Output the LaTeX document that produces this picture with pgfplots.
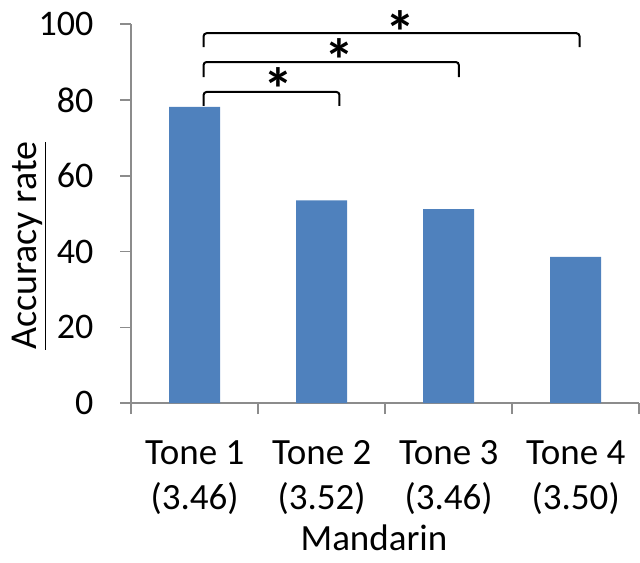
\documentclass[border=0pt]{standalone}
\usepackage{fontspec}
\setmainfont{Carlito}
\usepackage{pgfplots}
\pgfplotsset{compat=1.18}
\definecolor{barblue}{HTML}{4F81BD}
\definecolor{axgray}{HTML}{8C8C8C}
\begin{document}
\fontsize{18.5}{22.5}\selectfont
\begin{tikzpicture}
\begin{axis}[
  scale only axis,
  width=254pt, height=189.5pt,
  xmin=-0.5, xmax=3.5, ymin=0, ymax=100,
  ytick={0,20,...,100},
  xtick={-0.5,0.5,1.5,2.5,3.5},
  x tick label as interval,
  xticklabels={{Tone 1\\(3.46)},{Tone 2\\(3.52)},{Tone 3\\(3.46)},{Tone 4\\(3.50)}},
  xticklabel style={align=center, font=\fontsize{18.5}{22.5}\selectfont, yshift=-7pt},
  yticklabel style={font=\fontsize{18}{21.5}\selectfont, xshift=-7pt},
  /pgf/number format/assume math mode=true,
  axis x line*=bottom, axis y line*=left,
  tick align=outside, major tick length=5.5pt,
  axis line style={draw=axgray, line width=0.8pt},
  every tick/.style={draw=axgray, line width=0.8pt},
  ylabel={\underline{Accuracy rate}},
  xlabel={Mandarin},
  every axis y label/.style={at={(axis description cs:-0.2,0.415)}, rotate=90, anchor=center, font=\fontsize{19}{22}\selectfont},
  every axis x label/.style={at={(axis description cs:0.478,-0.388)}, anchor=base, font=\fontsize{18.5}{22.5}\selectfont},
  clip=false,
]
\addplot[ybar, bar width=25.5pt, fill=barblue, draw=none] coordinates {(0,78.2) (1,53.5) (2,51.2) (3,38.6)};
\draw[black, line width=1pt, rounded corners=1.5pt] (axis cs:0.07,78.4) -- (axis cs:0.07,82.1) -- (axis cs:1.14,82.1) -- (axis cs:1.14,78.4);
\draw[black, line width=1pt, rounded corners=1.5pt] (axis cs:0.07,86) -- (axis cs:0.07,90) -- (axis cs:2.08,90) -- (axis cs:2.08,86);
\draw[black, line width=1pt, rounded corners=1.5pt] (axis cs:0.07,93.9) -- (axis cs:0.07,97.6) -- (axis cs:3.03,97.6) -- (axis cs:3.03,93.9);
\node[font=\fontsize{30}{30}\selectfont\bfseries, inner sep=0pt, yshift=-5pt] at (axis cs:0.66,85.5) {*};
\node[font=\fontsize{30}{30}\selectfont\bfseries, inner sep=0pt, yshift=-5pt] at (axis cs:1.14,93.1) {*};
\node[font=\fontsize{30}{30}\selectfont\bfseries, inner sep=0pt, yshift=-5pt] at (axis cs:1.617,100.6) {*};
\end{axis}
\end{tikzpicture}
\end{document}
